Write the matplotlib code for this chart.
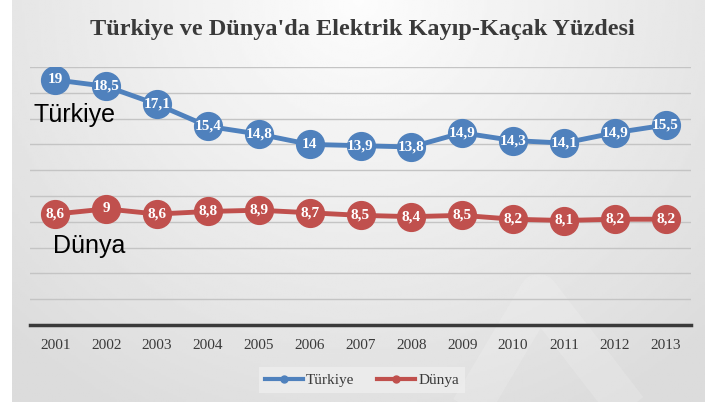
import matplotlib
matplotlib.use('Agg')
import matplotlib.pyplot as plt
from matplotlib.lines import Line2D
import numpy as np

# Kayip-kacak yuzdeleri
years = ['2001', '2002', '2003', '2004', '2005', '2006', '2007',
         '2008', '2009', '2010', '2011', '2012', '2013']
turkiye = [19, 18.5, 17.1, 15.4, 14.8, 14, 13.9, 13.8, 14.9, 14.3, 14.1, 14.9, 15.5]
dunya = [8.6, 9, 8.6, 8.8, 8.9, 8.7, 8.5, 8.4, 8.5, 8.2, 8.1, 8.2, 8.2]

W, H = 714, 408
blue = '#4f81bd'
red = '#c0504d'
txt = '#3a3a3a'
serif = 'Liberation Serif'

fig = plt.figure(figsize=(W / 100, H / 100), dpi=100)
fig.patch.set_facecolor('white')

# arka plan: ortasi acik gri gradyan
bg = fig.add_axes([12 / W, 6 / H, 693 / W, 402 / H])
gx, gy = np.meshgrid(np.linspace(-1, 1, 300), np.linspace(0, 1, 200))
r = np.sqrt((gx * 0.9) ** 2 + (gy * 1.1) ** 2)
shade = 0.99 - 0.13 * np.clip(r, 0, 1.3) / 1.3
bg.imshow(shade, cmap='gray', vmin=0, vmax=1, aspect='auto',
          extent=[0, 1, 0, 1], origin='upper')
# silik filigran
bg.plot([0.66, 0.76, 0.89], [-0.02, 0.27, -0.02], color='white',
        lw=28, alpha=0.15, solid_capstyle='butt', solid_joinstyle='round')
bg.set_xlim(0, 1)
bg.set_ylim(0, 1)
bg.axis('off')

ax = fig.add_axes([30 / W, (H - 325) / H, 661 / W, 258 / H])
ax.set_facecolor('none')
x = np.arange(len(years))

ax.plot(x, turkiye, color=blue, lw=3.5, marker='o', ms=20, zorder=3)
ax.plot(x, dunya, color=red, lw=3.5, marker='o', ms=20, zorder=3)

for xi, v in zip(x, turkiye):
    ax.text(xi, v, ('%g' % v).replace('.', ','), color='white', fontsize=11,
            fontweight='bold', family=serif, ha='center', va='center', zorder=4)
for xi, v in zip(x, dunya):
    ax.text(xi, v, ('%g' % v).replace('.', ','), color='white', fontsize=11,
            fontweight='bold', family=serif, ha='center', va='center', zorder=4)

ax.set_xlim(-0.5, len(years) - 0.5)
ax.set_ylim(0, 20)
ax.set_yticks(np.arange(0, 21, 2))
ax.yaxis.grid(True, color='#c4c4c4', lw=1)
ax.set_axisbelow(True)
ax.tick_params(axis='y', left=False, labelleft=False)
ax.tick_params(axis='x', length=0, pad=10, labelsize=11, labelcolor=txt)
ax.set_xticks(x)
ax.set_xticklabels(years, family=serif)
for s in ['top', 'right', 'left']:
    ax.spines[s].set_visible(False)
ax.spines['bottom'].set_color('#3a3a3a')
ax.spines['bottom'].set_linewidth(2.5)

fig.text(33 / W, 1 - 115 / H, 'Türkiye', fontsize=18, family='Liberation Sans',
         color='black', ha='left', va='center')
fig.text(53 / W, 1 - 246 / H, 'Dünya', fontsize=18, family='Liberation Sans',
         color='black', ha='left', va='center')

fig.text(362 / W, 1 - 30 / H, "Türkiye ve Dünya'da Elektrik Kayıp-Kaçak Yüzdesi",
         ha='center', va='center', fontsize=17.5, fontweight='bold',
         family=serif, color=txt)

handles = [Line2D([], [], color=blue, lw=3, marker='o', ms=5),
           Line2D([], [], color=red, lw=3, marker='o', ms=5)]
leg = fig.legend(handles, ['Türkiye', 'Dünya'], loc='center',
                 bbox_to_anchor=(362 / W, 1 - 380 / H), ncol=2, frameon=True,
                 prop={'family': serif, 'size': 11}, handlelength=2.5,
                 handletextpad=0.2, columnspacing=1.5, fancybox=False)
leg.get_frame().set_facecolor('#f2f2f2')
leg.get_frame().set_alpha(0.6)
leg.get_frame().set_edgecolor('none')
for t in leg.get_texts():
    t.set_color(txt)

plt.savefig('out.png', dpi=100)
